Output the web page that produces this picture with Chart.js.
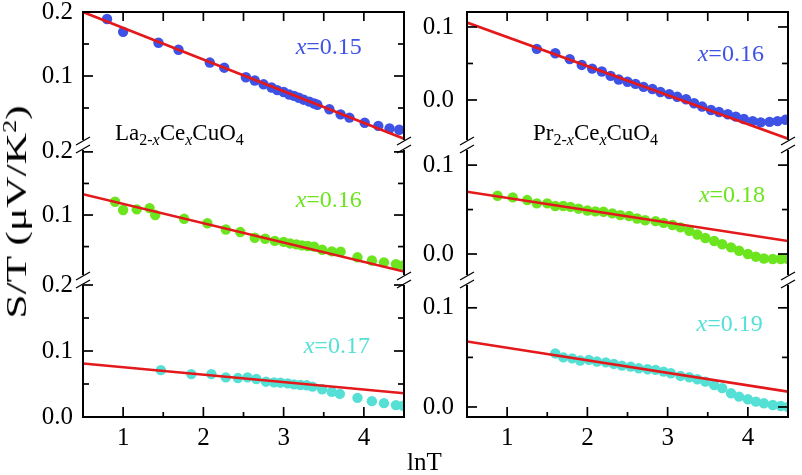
<!DOCTYPE html>
<html>
<head>
<meta charset="utf-8">
<script src="https://cdn.jsdelivr.net/npm/chart.js@4.4.1/dist/chart.umd.min.js"></script>
<style>
html,body{margin:0;padding:0;background:#fff;}
#wrap{position:relative;width:802px;height:475px;overflow:hidden;background:#fff;}
#wrap canvas{position:absolute;left:0;top:0;}
#ylab{position:absolute;left:16px;top:212px;transform:translate(-50%,-50%) rotate(-90deg) scaleX(1.45);
  font-family:"Liberation Serif","Times New Roman",serif;font-size:30px;white-space:nowrap;color:#000;line-height:1;}
#ylab sup{font-size:18px;vertical-align:0.55em;line-height:0;}
#xlab{position:absolute;left:407px;top:449px;font-family:"Liberation Serif","Times New Roman",serif;font-size:25px;color:#000;white-space:nowrap;line-height:1;}
</style>
</head>
<body>
<div id="wrap">
<canvas id="c0" width="802" height="475"></canvas>
<canvas id="c1" width="802" height="475"></canvas>
<canvas id="c2" width="802" height="475"></canvas>
<canvas id="c3" width="802" height="475"></canvas>
<canvas id="c4" width="802" height="475"></canvas>
<canvas id="c5" width="802" height="475"></canvas>
<div id="ylab">S/T (μV/K<sup>2</sup>)</div>
<div id="xlab">lnT</div>
</div>
<script>
// ---------------- data ----------------
const xTickMajor = [1, 2, 3, 4];
const xTickMinor = [1.5, 2.5, 3.5];
const fitLnT = [0.5, 4.5];

// La2-xCexCuO4, x = 0.15
const lnT_L15 = [0.80,1.00,1.44,1.69,2.08,2.26,2.53,2.64,2.75,2.85,2.92,3.00,3.07,3.13,3.19,3.25,3.32,3.38,3.42,3.57,3.71,3.82,4.01,4.18,4.32,4.44];
const st_L15  = [0.189,0.169,0.152,0.141,0.121,0.113,0.098,0.093,0.087,0.082,0.078,0.075,0.071,0.069,0.066,0.063,0.060,0.057,0.055,0.048,0.040,0.035,0.027,0.022,0.018,0.016];
const fit_L15 = [0.200, 0.002];

// La2-xCexCuO4, x = 0.16
const lnT_L16 = [0.90,1.00,1.17,1.33,1.40,1.76,2.05,2.28,2.46,2.64,2.77,2.89,3.00,3.08,3.16,3.23,3.30,3.38,3.48,3.60,3.71,3.92,4.10,4.25,4.40,4.49];
const st_L16  = [0.121,0.108,0.109,0.111,0.100,0.094,0.087,0.077,0.073,0.064,0.0625,0.059,0.0575,0.055,0.0535,0.052,0.051,0.050,0.045,0.0425,0.042,0.033,0.028,0.025,0.022,0.020];
const fit_L16 = [0.133, 0.0105];

// La2-xCexCuO4, x = 0.17
const lnT_L17 = [1.47,1.85,2.10,2.28,2.43,2.55,2.66,2.78,2.88,2.96,3.05,3.13,3.21,3.29,3.36,3.48,3.60,3.70,3.92,4.10,4.25,4.40,4.49];
const st_L17  = [0.071,0.065,0.065,0.060,0.059,0.060,0.0575,0.0535,0.0525,0.052,0.051,0.0495,0.0485,0.048,0.046,0.042,0.038,0.035,0.029,0.024,0.021,0.018,0.017];
const fit_L17 = [0.081, 0.036];

// Pr2-xCexCuO4, x = 0.16
const lnT_P16 = [1.37,1.60,1.78,1.93,2.06,2.18,2.29,2.39,2.50,2.60,2.70,2.81,2.91,3.02,3.12,3.23,3.33,3.43,3.54,3.64,3.75,3.85,3.95,4.06,4.16,4.27,4.37,4.47];
const st_P16  = [0.070,0.064,0.056,0.048,0.043,0.039,0.033,0.028,0.025,0.022,0.018,0.015,0.011,0.008,0.0045,0.001,-0.0045,-0.009,-0.0137,-0.0164,-0.0196,-0.0228,-0.026,-0.029,-0.0306,-0.030,-0.029,-0.027];
const fit_P16 = [0.106, -0.053];

// Pr2-xCexCuO4, x = 0.18
const lnT_P18 = [0.88,1.07,1.25,1.37,1.50,1.60,1.70,1.79,1.89,2.00,2.10,2.20,2.31,2.41,2.52,2.62,2.72,2.85,2.95,3.06,3.16,3.27,3.37,3.47,3.58,3.68,3.79,3.89,4.00,4.10,4.20,4.31,4.41,4.50];
const st_P18  = [0.0655,0.0637,0.0607,0.057,0.057,0.054,0.054,0.053,0.051,0.049,0.048,0.0475,0.0457,0.0438,0.0427,0.040,0.038,0.037,0.035,0.0326,0.030,0.026,0.022,0.018,0.0146,0.011,0.0075,0.0037,0.0,-0.003,-0.005,-0.0056,-0.0056,-0.0056];
const fit_P18 = [0.070, 0.0146];

// Pr2-xCexCuO4, x = 0.19
const lnT_P19 = [1.60,1.70,1.81,1.91,2.02,2.12,2.23,2.33,2.43,2.54,2.64,2.75,2.85,2.95,3.04,3.16,3.27,3.37,3.47,3.58,3.68,3.79,3.89,4.00,4.10,4.20,4.31,4.41,4.50];
const st_P19  = [0.054,0.050,0.049,0.0468,0.0475,0.0458,0.045,0.0434,0.0417,0.0407,0.039,0.038,0.0374,0.0357,0.034,0.0313,0.030,0.028,0.0256,0.022,0.019,0.0138,0.0104,0.0078,0.0054,0.0037,0.002,0.001,0.0];
const fit_P19 = [0.066, 0.0155];

// ---------------- styling ----------------
const RED = '#e3191c';
const BLUE = '#3e52e6', GREEN = '#6ce51f', CYAN = '#55e0d5';
const SERIF = "'Liberation Serif', 'Times New Roman', serif";
Chart.defaults.font.family = SERIF;
const W = 802, H = 475;
const YW = 60, XH = 36;
const COLL = {l: 83, r: 404}, COLR = {l: 467, r: 788};
const ROWS = [{t: 12, b: 140}, {t: 150, b: 275}, {t: 285, b: 417}];

function drawRuns(ctx, x, y, runs, color, baseline) {
  ctx.fillStyle = color;
  ctx.textAlign = 'left';
  ctx.textBaseline = baseline || 'alphabetic';
  for (const r of runs) {
    ctx.font = (r.i ? 'italic ' : '') + r.s + 'px ' + SERIF;
    ctx.fillText(r.t, x, y + (r.dy || 0));
    x += ctx.measureText(r.t).width;
  }
}

function line(ctx, x1, y1, x2, y2) {
  ctx.beginPath(); ctx.moveTo(x1, y1); ctx.lineTo(x2, y2); ctx.stroke();
}

function framePlugin(p) {
  return {
    id: 'frame',
    afterDraw(chart) {
      const ctx = chart.ctx;
      const {left, right, top, bottom} = chart.chartArea;
      const xs = chart.scales.x, ys = chart.scales.y;
      ctx.save();
      ctx.strokeStyle = '#000';
      ctx.lineWidth = 2;
      line(ctx, left, top, left, bottom);
      line(ctx, right, top, right, bottom);
      if (p.row === 0) line(ctx, left - 1, top, right + 1, top);
      if (p.row === 2) line(ctx, left - 1, bottom, right + 1, bottom);
      ctx.lineWidth = 1.7;
      // y ticks (inward, both sides)
      p.yMajor.forEach(v => {
        const py = ys.getPixelForValue(v);
        line(ctx, left, py, left + 10, py);
        line(ctx, right, py, right - 10, py);
      });
      p.yMinor.forEach(v => {
        const py = ys.getPixelForValue(v);
        line(ctx, left, py, left + 6, py);
        line(ctx, right, py, right - 6, py);
      });
      // x ticks
      if (p.row === 0) {
        xTickMajor.concat(xTickMinor).forEach(v => {
          const px = xs.getPixelForValue(v);
          line(ctx, px, top, px, top + 9);
        });
      }
      if (p.row === 2) {
        xTickMajor.forEach(v => { const px = xs.getPixelForValue(v); line(ctx, px, bottom, px, bottom - 10); });
        xTickMinor.forEach(v => { const px = xs.getPixelForValue(v); line(ctx, px, bottom, px, bottom - 5); });
      }
      // axis break marks
      ctx.lineWidth = 1.3;
      const slash = (cx, cy) => line(ctx, cx - 7, cy + 4, cx + 7, cy - 4);
      if (p.row !== 0) { slash(left, top - 1); slash(right, top - 1); }
      if (p.row !== 2) { slash(left, bottom + 1); slash(right, bottom + 1); }
      // label x=...
      const lx = xs.getPixelForValue(p.label.x), ly = ys.getPixelForValue(p.label.y);
      drawRuns(ctx, lx, ly, [{t: 'x', i: true, s: 24}, {t: '=' + p.label.text, s: 24}], p.color, 'middle');
      // compound name
      if (p.name) {
        drawRuns(ctx, left + p.name.dx, bottom + p.name.dy, [
          {t: p.name.el, s: 23}, {t: '2-', s: 16, dy: 5}, {t: 'x', i: true, s: 16, dy: 5},
          {t: 'Ce', s: 23}, {t: 'x', i: true, s: 16, dy: 5}, {t: 'CuO', s: 23}, {t: '4', s: 16, dy: 5}
        ], '#000');
      }
      ctx.restore();
    }
  };
}

function panel(id, p) {
  const col = p.col === 0 ? COLL : COLR;
  const row = ROWS[p.row];
  const showX = p.row === 2;
  return new Chart(document.getElementById(id), {
    type: 'scatter',
    data: {
      datasets: [
        {
          type: 'line',
          data: fitLnT.map((x, i) => ({x: x, y: p.fit[i]})),
          borderColor: RED, borderWidth: 2.6, pointRadius: 0, fill: false, order: 0, clip: 0
        },
        {
          data: p.xs.map((x, i) => ({x: x, y: p.ys[i]})),
          backgroundColor: p.color, borderWidth: 0, pointRadius: 5.2, order: 1, clip: 0
        }
      ]
    },
    options: {
      responsive: false, animation: false, devicePixelRatio: 1, events: [],
      layout: {padding: {left: col.l - YW, right: W - col.r, top: row.t, bottom: H - row.b - (showX ? XH : 0)}},
      plugins: {legend: {display: false}, tooltip: {enabled: false}},
      scales: {
        x: {
          type: 'linear', min: 0.5, max: 4.5, display: showX,
          grid: {display: false, drawTicks: false}, border: {display: false},
          afterBuildTicks: s => { s.ticks = xTickMajor.map(v => ({value: v})); },
          afterFit: s => { if (showX) { s.height = XH; } s.paddingLeft = 0; s.paddingRight = 0; },
          ticks: {autoSkip: false, maxRotation: 0, padding: 6, color: '#000',
            font: {family: SERIF, size: 25}, callback: v => String(v)}
        },
        y: {
          type: 'linear', min: p.min, max: p.max,
          grid: {display: false, drawTicks: false}, border: {display: false},
          afterBuildTicks: s => { s.ticks = p.yLabels.map(v => ({value: v})); },
          afterFit: s => { s.width = YW; s.paddingTop = 0; s.paddingBottom = 0; },
          ticks: {autoSkip: false, padding: p.col === 0 ? 10 : 13, color: '#000',
            font: {family: SERIF, size: 25}, callback: v => v.toFixed(1)}
        }
      }
    },
    plugins: [framePlugin(p)]
  });
}

panel('c0', {col: 0, row: 0, min: 0, max: 0.2, xs: lnT_L15, ys: st_L15, fit: fit_L15, color: BLUE,
  yLabels: [0.1, 0.2], yMajor: [0.1], yMinor: [0.05, 0.15],
  label: {x: 3.15, y: 0.144, text: '0.15'}, name: {el: 'La', dx: 32, dy: 0}});
panel('c1', {col: 0, row: 1, min: 0.005, max: 0.203, xs: lnT_L16, ys: st_L16, fit: fit_L16, color: GREEN,
  yLabels: [0.1, 0.2], yMajor: [0.1, 0.2], yMinor: [0.05, 0.15],
  label: {x: 3.15, y: 0.122, text: '0.16'}});
panel('c2', {col: 0, row: 2, min: 0, max: 0.2, xs: lnT_L17, ys: st_L17, fit: fit_L17, color: CYAN,
  yLabels: [0.0, 0.1, 0.2], yMajor: [0.1, 0.2], yMinor: [0.05, 0.15],
  label: {x: 3.25, y: 0.106, text: '0.17'}});
panel('c3', {col: 1, row: 0, min: -0.0548, max: 0.1205, xs: lnT_P16, ys: st_P16, fit: fit_P16, color: BLUE,
  yLabels: [0.0, 0.1], yMajor: [0.0, 0.1], yMinor: [0.05],
  label: {x: 3.375, y: 0.0616, text: '0.16'}, name: {el: 'Pr', dx: 66, dy: 0}});
panel('c4', {col: 1, row: 1, min: -0.0236, max: 0.117, xs: lnT_P18, ys: st_P18, fit: fit_P18, color: GREEN,
  yLabels: [0.0, 0.1], yMajor: [0.0, 0.1], yMinor: [0.05],
  label: {x: 3.39, y: 0.066, text: '0.18'}});
panel('c5', {col: 1, row: 2, min: -0.0101, max: 0.123, xs: lnT_P19, ys: st_P19, fit: fit_P19, color: CYAN,
  yLabels: [0.0, 0.1], yMajor: [0.0, 0.1], yMinor: [0.05],
  label: {x: 3.36, y: 0.083, text: '0.19'}});
</script>
</body>
</html>
